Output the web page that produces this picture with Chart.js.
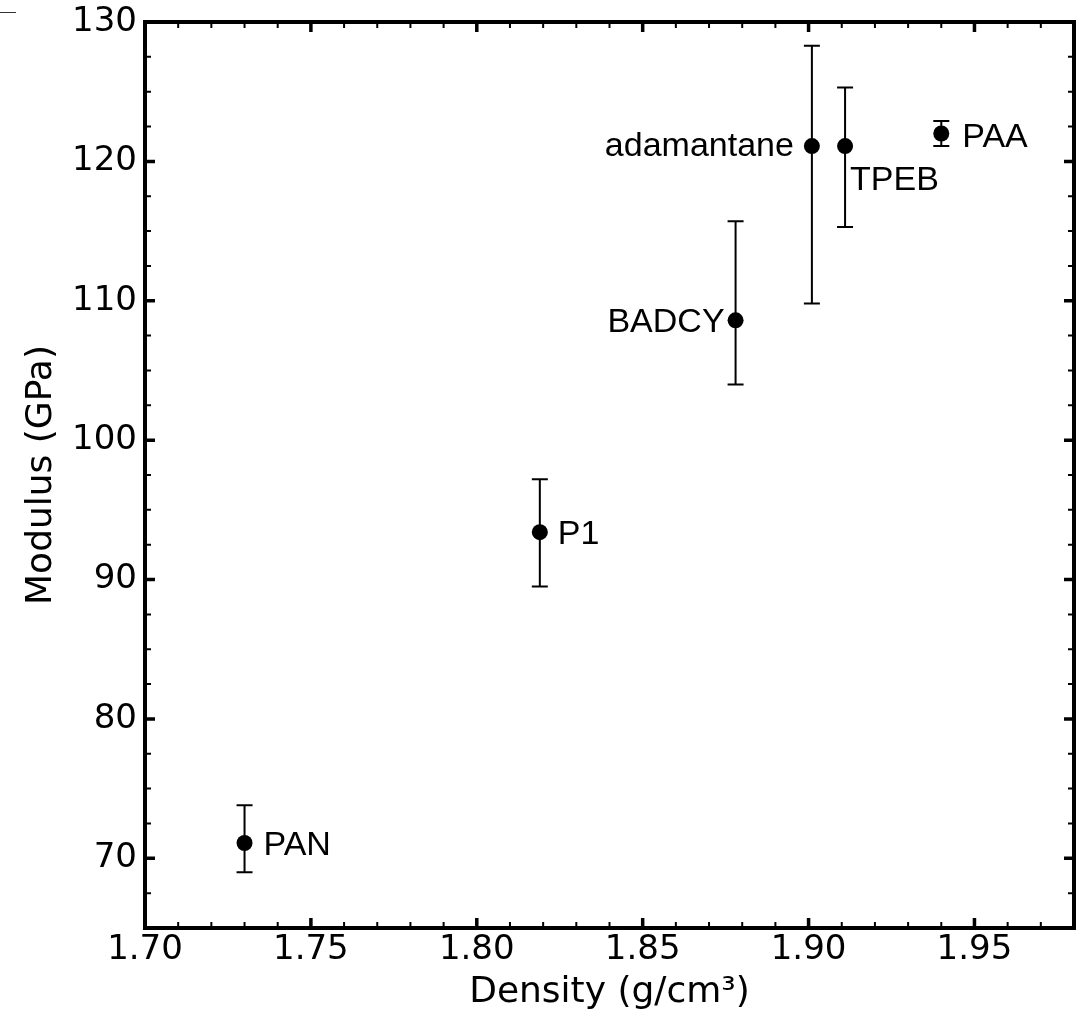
<!DOCTYPE html>
<html>
<head>
<meta charset="utf-8">
<script src="https://cdn.jsdelivr.net/npm/chart.js@4.4.1/dist/chart.umd.min.js"></script>
<style>
  html, body { margin: 0; padding: 0; background: #fff; }
  canvas { display: block; }
</style>
</head>
<body>
<canvas id="chart" width="1082" height="1017"></canvas>
<script>
// --------- data --------------------------------
const names   = ["PAN", "P1", "BADCY", "adamantane", "TPEB", "PAA"];
const density = [1.730, 1.819, 1.878, 1.901, 1.911, 1.940];   // g/cm3
const modulus = [71.1, 93.4, 108.6, 121.1, 121.1, 122.0];     // GPa
const errLow  = [69.0, 89.5, 104.0, 109.8, 115.3, 121.1];
const errHigh = [73.8, 97.2, 115.7, 128.3, 125.3, 122.9];

const xTicks = [1.70, 1.75, 1.80, 1.85, 1.90, 1.95];
const yTicks = [70, 80, 90, 100, 110, 120, 130];
const xMinorStep = 0.01;
const yMinorStep = 2.5;

// where each label sits relative to its point (px)
const labelPlace = {
  PAN:        { dx: 19,  dy: 12, align: "left" },
  P1:         { dx: 18,  dy: 12, align: "left" },
  BADCY:      { dx: -11, dy: 12, align: "right" },
  adamantane: { dx: -18, dy: 10, align: "right" },
  TPEB:       { dx: 5,   dy: 44, align: "left" },
  PAA:        { dx: 21,  dy: 13, align: "left" }
};

const tickFont  = { family: "'DejaVu Sans'", size: 34 };
const titleFont = { family: "'DejaVu Sans'", size: 36, lineHeight: 1 };

// --------- plugins ----------
// error bars, drawn under the markers
const errorBars = {
  id: "errorBars",
  beforeDatasetsDraw(chart) {
    const { ctx, scales: { x, y } } = chart;
    ctx.save();
    ctx.strokeStyle = "#000";
    ctx.lineWidth = 2;
    density.forEach((d, i) => {
      const px = x.getPixelForValue(d);
      const lo = y.getPixelForValue(errLow[i]);
      const hi = y.getPixelForValue(errHigh[i]);
      ctx.beginPath();
      ctx.moveTo(px, lo); ctx.lineTo(px, hi);
      ctx.moveTo(px - 8, lo); ctx.lineTo(px + 8, lo);
      ctx.moveTo(px - 8, hi); ctx.lineTo(px + 8, hi);
      ctx.stroke();
    });
    ctx.restore();
  }
};

// point labels
const pointLabels = {
  id: "pointLabels",
  afterDatasetsDraw(chart) {
    const { ctx, scales: { x, y } } = chart;
    ctx.save();
    ctx.fillStyle = "#000";
    ctx.font = "34px 'Liberation Sans', Arial, sans-serif";
    ctx.textBaseline = "alphabetic";
    names.forEach((n, i) => {
      const p = labelPlace[n];
      ctx.textAlign = p.align;
      ctx.fillText(n, x.getPixelForValue(density[i]) + p.dx, y.getPixelForValue(modulus[i]) + p.dy);
    });
    ctx.restore();
  }
};

// thick frame + inward ticks on all four sides
const frameTicks = {
  id: "frameTicks",
  afterDraw(chart) {
    const { ctx, chartArea: a, scales: { x, y } } = chart;
    const isMajor = (list, v) => list.some(t => Math.abs(t - v) < 1e-9);

    const xMarks = (v, len) => {
      const px = x.getPixelForValue(v);
      ctx.moveTo(px, a.bottom); ctx.lineTo(px, a.bottom - len);
      ctx.moveTo(px, a.top);    ctx.lineTo(px, a.top + len);
    };
    const yMarks = (v, len) => {
      const py = y.getPixelForValue(v);
      ctx.moveTo(a.left, py);  ctx.lineTo(a.left + len, py);
      ctx.moveTo(a.right, py); ctx.lineTo(a.right - len, py);
    };

    ctx.save();
    ctx.strokeStyle = "#000";

    // minor
    ctx.lineWidth = 2;
    ctx.beginPath();
    for (let i = Math.ceil(x.min / xMinorStep - 1e-9); i * xMinorStep <= x.max + 1e-9; i++) {
      const v = i * xMinorStep;
      if (!isMajor(xTicks, v)) xMarks(v, 6);
    }
    for (let i = Math.ceil(y.min / yMinorStep - 1e-9); i * yMinorStep <= y.max + 1e-9; i++) {
      const v = i * yMinorStep;
      if (!isMajor(yTicks, v)) yMarks(v, 6);
    }
    ctx.stroke();

    // major
    ctx.lineWidth = 3.5;
    ctx.beginPath();
    xTicks.forEach(v => xMarks(v, 10));
    yTicks.forEach(v => yMarks(v, 10));
    ctx.stroke();

    // frame
    ctx.lineWidth = 4;
    ctx.strokeRect(a.left, a.top, a.right - a.left, a.bottom - a.top);

    // stray dash at the top-left corner of the original
    ctx.lineWidth = 1;
    ctx.strokeStyle = "#333";
    ctx.beginPath();
    ctx.moveTo(0, 12.5); ctx.lineTo(16, 12.5);
    ctx.stroke();
    ctx.restore();
  }
};

// --------- chart ----------
new Chart(document.getElementById("chart"), {
  type: "scatter",
  data: {
    datasets: [{
      data: density.map((d, i) => ({ x: d, y: modulus[i] })),
      backgroundColor: "#000",
      borderWidth: 0,
      pointRadius: 8,
      pointHoverRadius: 8
    }]
  },
  options: {
    responsive: false,
    animation: false,
    events: [],
    layout: { padding: { top: 22, right: 5, left: 0, bottom: 0 } },
    plugins: { legend: { display: false }, tooltip: { enabled: false } },
    scales: {
      x: {
        type: "linear",
        min: 1.70,
        max: 1.98,
        afterBuildTicks: s => { s.ticks = xTicks.map(v => ({ value: v })); },
        afterFit: s => { s.height = 89; s.paddingLeft = 0; s.paddingRight = 0; },
        grid: { display: false, drawTicks: false },
        border: { display: false },
        ticks: {
          color: "#000",
          font: tickFont,
          padding: 2,
          maxRotation: 0,
          autoSkip: false,
          callback: v => Number(v).toFixed(2)
        },
        title: {
          display: true,
          text: "Density (g/cm³)",
          color: "#000",
          font: titleFont,
          padding: { top: 0, bottom: 6 }
        }
      },
      y: {
        type: "linear",
        min: 65,
        max: 130,
        afterBuildTicks: s => { s.ticks = yTicks.map(v => ({ value: v })); },
        afterFit: s => { s.width = 145; s.paddingTop = 0; s.paddingBottom = 0; },
        grid: { display: false, drawTicks: false },
        border: { display: false },
        ticks: {
          color: "#000",
          font: tickFont,
          padding: 8,
          autoSkip: false,
          callback: v => String(v)
        },
        title: {
          display: true,
          text: "Modulus (GPa)",
          color: "#000",
          font: titleFont,
          padding: { top: 24, bottom: 0 }
        }
      }
    }
  },
  plugins: [errorBars, pointLabels, frameTicks]
});
</script>
</body>
</html>
